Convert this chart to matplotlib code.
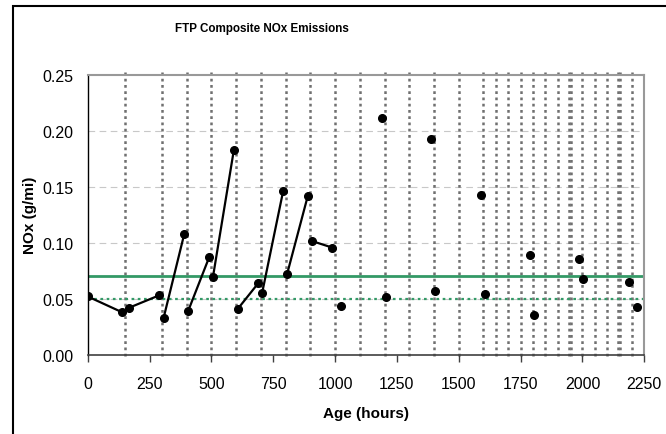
"""FTP composite NOx emissions vs. engine age."""

import matplotlib

matplotlib.use("Agg")
import matplotlib.pyplot as plt
from matplotlib.patches import Rectangle

plt.rcParams["font.family"] = ["Liberation Sans", "DejaVu Sans"]

# connected test pairs (start/end of each interval)
seg_hours = [[0, 138], [168, 289], [307, 390], [406, 491], [506, 591],
             [607, 690], [705, 790], [806, 890], [906, 989]]
seg_nox = [[0.052, 0.038], [0.042, 0.053], [0.033, 0.1075], [0.039, 0.087],
           [0.069, 0.183], [0.041, 0.064], [0.055, 0.146], [0.072, 0.142],
           [0.1015, 0.0956]]

# unconnected points
single_hours = [1022, 1189, 1205, 1389, 1404, 1588, 1605, 1788, 1804,
                1988, 2003, 2187, 2220]
single_nox = [0.0435, 0.211, 0.0518, 0.1923, 0.0566, 0.1423, 0.0539,
              0.089, 0.0354, 0.0854, 0.0679, 0.0646, 0.0423]

# maintenance / event markers
event_hours = [150, 300, 400, 500, 600, 700, 800, 900, 1000, 1100, 1200,
               1300, 1400, 1500, 1600, 1650, 1700, 1750, 1800, 1850, 1900,
               1944, 1955, 2000, 2050, 2100, 2142, 2152, 2200]

std_limit = 0.07
target_limit = 0.05

xticks = [0, 250, 500, 750, 1000, 1250, 1500, 1750, 2000, 2250]
yticks = [0.00, 0.05, 0.10, 0.15, 0.20, 0.25]

fig = plt.figure(figsize=(6.66, 4.35), dpi=100)
ax = fig.add_axes([0.1317, 0.1823, 0.8357, 0.6437])

for x in event_hours:
    ax.axvline(x, ymin=-0.005, ymax=1.01, color="#707070", lw=1.8,
               ls=(0, (1.1, 1.4)), clip_on=False, zorder=1)

for y in yticks[1:-1]:
    ax.axhline(y, color="#c8c8c8", lw=0.8, ls=(0, (6, 4)), zorder=0.5)

ax.axhline(std_limit, color="#339966", lw=2.0, zorder=2)
ax.axhline(target_limit, color="#339966", lw=1.6, ls=(0, (1.2, 1.6)), zorder=2)

for hx, ny in zip(seg_hours, seg_nox):
    ax.plot(hx, ny, color="black", lw=1.6, marker="o", ms=5.5, zorder=3)
ax.plot(single_hours, single_nox, ls="none", color="black", marker="o",
        ms=5.5, zorder=3)

ax.set_xlim(0, 2250)
ax.set_ylim(0, 0.25)
ax.set_xticks(xticks)
ax.set_yticks(yticks)
ax.set_yticklabels([f"{v:.2f}" for v in yticks])
ax.tick_params(axis="x", direction="out", length=5, width=1, pad=10,
               labelsize=11.5, color="#404040")
ax.tick_params(axis="y", length=0, pad=10, labelsize=11.5)

ax.spines["left"].set_color("black")
ax.spines["left"].set_linewidth(1.0)
ax.spines["bottom"].set_color("#404040")
ax.spines["bottom"].set_linewidth(1.2)
for s in ("top", "right"):
    ax.spines[s].set_color("#999999")
    ax.spines[s].set_linewidth(1.5)

ax.set_xlabel("Age (hours)", fontsize=11, fontweight="bold")
ax.xaxis.set_label_coords(0.5, -(407 - 355.7) / 280)
ax.set_ylabel("NOx (g/mi)", fontsize=11, fontweight="bold")
ax.yaxis.set_label_coords(-(87.7 - 37) / 556.6, 0.5)
fig.text(262 / 666, 1 - 29 / 435, "FTP Composite NOx Emissions",
         ha="center", va="center", fontsize=8.4, fontweight="bold")

# chart frame (cropped on the right and bottom)
fig.patches.append(Rectangle((13 / 666, -0.1), 1.2, 1 - 7 / 435 + 0.1,
                             transform=fig.transFigure, fill=False,
                             edgecolor="black", lw=1.5))

fig.savefig("out.png", dpi=100)
plt.close(fig)
